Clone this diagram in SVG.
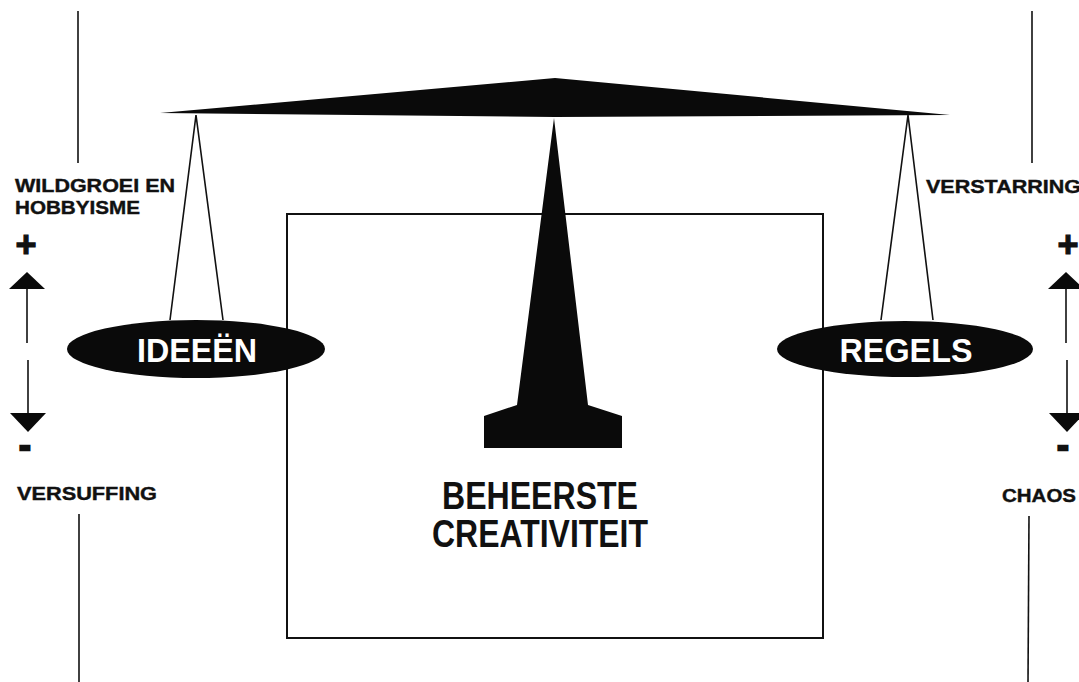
<svg xmlns="http://www.w3.org/2000/svg" width="1079" height="682" viewBox="0 0 1079 682">
<style>
.lbl{font-family:"Liberation Sans",Arial,sans-serif;font-weight:bold;font-size:19px;fill:#111;stroke:#111;stroke-width:0.4}
.big{font-family:"Liberation Sans",Arial,sans-serif;font-weight:bold;font-size:38px;fill:#111;text-anchor:middle}
.pan{font-family:"Liberation Sans",Arial,sans-serif;font-weight:bold;font-size:34px;fill:#fff;text-anchor:middle}
.sym{font-family:"Liberation Sans",Arial,sans-serif;font-weight:bold;fill:#111;stroke:#111;text-anchor:middle}
.ln{stroke:#111;stroke-width:1.6;fill:none}
.blk{fill:#0a0a0a}
</style>
<rect width="1079" height="682" fill="#fff"/>
<g id="frame">
<rect x="287" y="214" width="536" height="424" fill="none" stroke="#111" stroke-width="2"/>
</g>
<g id="connectors">
<line class="ln" x1="78" y1="11" x2="78" y2="163"/>
<line class="ln" x1="1032" y1="11" x2="1032" y2="163"/>
<line class="ln" x1="79" y1="514" x2="79" y2="682"/>
<line class="ln" x1="1029" y1="516" x2="1028" y2="682"/>
<polyline class="ln" points="170,320 196,115 223,320"/>
<polyline class="ln" points="881,320 908,115 933,320"/>
<line class="ln" x1="27" y1="286" x2="27" y2="343"/>
<polygon class="blk" points="27,272 45,289 9,289"/>
<line class="ln" x1="28" y1="360" x2="28" y2="416"/>
<polygon class="blk" points="28,432 46,413 10,413"/>
<line class="ln" x1="1066" y1="286" x2="1066" y2="343"/>
<polygon class="blk" points="1066,272 1084,289 1048,289"/>
<line class="ln" x1="1067" y1="360" x2="1067" y2="416"/>
<polygon class="blk" points="1067,432 1085,413 1049,413"/>
</g>
<g id="beam">
<polygon class="blk" points="160,113 555,78 950,115 555,117"/>
</g>
<g id="pillar">
<polygon class="blk" points="554,118 588,405 622,416 622,448 484,448 484,416 517,405"/>
</g>
<g id="ideeen">
<ellipse cx="196" cy="349" rx="129" ry="29" class="blk"/>
<text class="pan" x="197" y="362" textLength="120" lengthAdjust="spacingAndGlyphs">IDEEËN</text>
</g>
<g id="regels">
<ellipse cx="905" cy="349" rx="128" ry="28" class="blk"/>
<text class="pan" x="906" y="362" textLength="133" lengthAdjust="spacingAndGlyphs">REGELS</text>
</g>
<g id="center-label">
<text class="big" x="540" y="509" textLength="196" lengthAdjust="spacingAndGlyphs">BEHEERSTE</text>
<text class="big" x="540" y="547" textLength="216" lengthAdjust="spacingAndGlyphs">CREATIVITEIT</text>
</g>
<g id="left-labels">
<text class="lbl" x="15" y="192" textLength="160" lengthAdjust="spacingAndGlyphs">WILDGROEI EN</text>
<text class="lbl" x="15" y="214" textLength="125" lengthAdjust="spacingAndGlyphs">HOBBYISME</text>
<text class="sym" x="26" y="257" font-size="36" stroke-width="1.2">+</text>
<text class="sym" x="25" y="457" font-size="34" stroke-width="2.5">-</text>
<text class="lbl" x="17" y="500" textLength="140" lengthAdjust="spacingAndGlyphs">VERSUFFING</text>
</g>
<g id="right-labels">
<text class="lbl" x="926" y="193" textLength="155" lengthAdjust="spacingAndGlyphs">VERSTARRING</text>
<text class="sym" x="1068" y="257" font-size="36" stroke-width="1.2">+</text>
<text class="sym" x="1063" y="457" font-size="34" stroke-width="2.5">-</text>
<text class="lbl" x="1002" y="502" textLength="74" lengthAdjust="spacingAndGlyphs">CHAOS</text>
</g>
</svg>
